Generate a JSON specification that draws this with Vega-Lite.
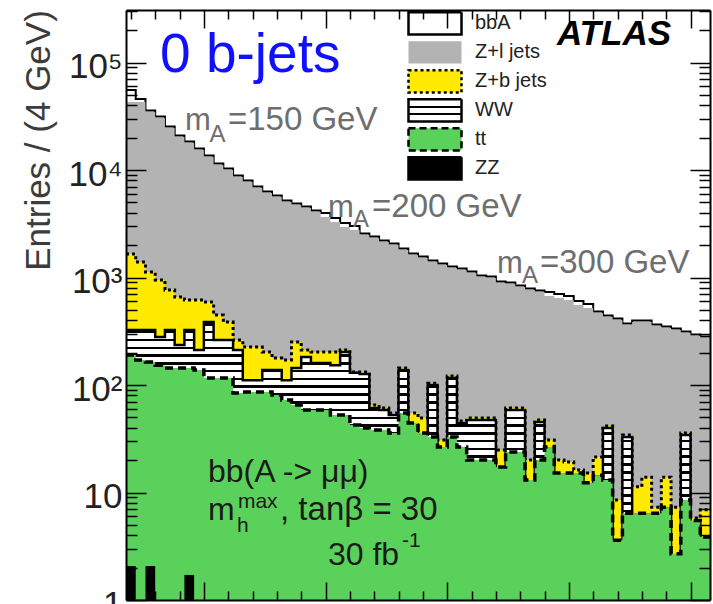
{
  "$schema": "https://vega.github.io/schema/vega-lite/v6.json",
  "width": 584,
  "height": 590,
  "autosize": {"type": "none"},
  "padding": {"left": 126, "top": 10, "right": 3, "bottom": 4},
  "background": "white",
  "config": {"view": {"stroke": null}, "font": "Liberation Sans", "axis": {"grid": false}, "legend": {"symbolFillColor": "#ffffff"}},
  "datasets": {
    "h": [
      {"lo":68,"hi":72,"bbA":55500,"zl":42900,"zb":1654,"ww":325,"tt":190},
      {"lo":72,"hi":76,"bbA":45800,"zl":42900,"zb":1394,"ww":325,"tt":171},
      {"lo":76,"hi":80,"bbA":35800,"zl":34640,"zb":1125,"ww":325,"tt":164},
      {"lo":80,"hi":84,"bbA":31500,"zl":30460,"zb":948,"ww":280,"tt":153},
      {"lo":84,"hi":88,"bbA":25400,"zl":24590,"zb":765,"ww":325,"tt":144},
      {"lo":88,"hi":92,"bbA":20950,"zl":20280,"zb":659,"ww":236,"tt":144},
      {"lo":92,"hi":96,"bbA":18400,"zl":17830,"zb":618,"ww":325,"tt":144},
      {"lo":96,"hi":100,"bbA":15850,"zl":15350,"zb":618,"ww":212,"tt":138},
      {"lo":100,"hi":104,"bbA":13650,"zl":13210,"zb":592,"ww":385,"tt":116},
      {"lo":104,"hi":108,"bbA":11500,"zl":11130,"zb":448,"ww":262,"tt":116},
      {"lo":108,"hi":112,"bbA":10330,"zl":10000,"zb":385,"ww":262,"tt":116},
      {"lo":112,"hi":116,"bbA":8900,"zl":8610,"zb":262,"ww":212,"tt":84.2},
      {"lo":116,"hi":120,"bbA":7990,"zl":7735,"zb":226,"ww":111,"tt":86.1},
      {"lo":120,"hi":124,"bbA":7030,"zl":6803,"zb":226,"ww":111,"tt":86.1},
      {"lo":124,"hi":128,"bbA":6310,"zl":6109,"zb":203,"ww":138,"tt":86.1},
      {"lo":128,"hi":132,"bbA":5790,"zl":5608,"zb":178,"ww":138,"tt":80.7},
      {"lo":132,"hi":136,"bbA":5200,"zl":5039,"zb":171,"ww":111,"tt":72.5},
      {"lo":136,"hi":140,"bbA":4880,"zl":4725,"zb":251,"ww":144,"tt":65.2},
      {"lo":140,"hi":144,"bbA":4580,"zl":4432,"zb":212,"ww":182,"tt":58.5},
      {"lo":144,"hi":148,"bbA":4200,"zl":4068,"zb":203,"ww":160,"tt":58.5},
      {"lo":148,"hi":152,"bbA":3990,"zl":3655,"zb":203,"ww":160,"tt":58.5},
      {"lo":152,"hi":156,"bbA":3580,"zl":3284,"zb":203,"ww":153,"tt":52.6},
      {"lo":156,"hi":160,"bbA":3220,"zl":2950,"zb":212,"ww":203,"tt":52.6},
      {"lo":160,"hi":164,"bbA":3010,"zl":2766,"zb":132,"ww":130,"tt":42.5},
      {"lo":164,"hi":168,"bbA":2570,"zl":2485,"zb":132,"ww":126.6,"tt":39.8},
      {"lo":168,"hi":172,"bbA":2410,"zl":2331,"zb":65.2,"ww":61.1,"tt":38.1},
      {"lo":172,"hi":176,"bbA":2210,"zl":2139,"zb":61.1,"ww":58.5,"tt":38.1},
      {"lo":176,"hi":180,"bbA":2070,"zl":2006,"zb":54.9,"ww":52.6,"tt":35.8},
      {"lo":180,"hi":184,"bbA":1860,"zl":1802,"zb":144,"ww":138,"tt":54.9},
      {"lo":184,"hi":188,"bbA":1670,"zl":1619,"zb":54.9,"ww":43,"tt":44.3},
      {"lo":188,"hi":192,"bbA":1570,"zl":1519,"zb":49.3,"ww":34.7,"tt":35.8},
      {"lo":192,"hi":196,"bbA":1440,"zl":1394,"zb":104,"ww":100,"tt":32.8},
      {"lo":196,"hi":200,"bbA":1350,"zl":1307,"zb":30.8,"ww":25.7,"tt":26.5},
      {"lo":200,"hi":204,"bbA":1265,"zl":1226,"zb":121,"ww":116,"tt":32.8},
      {"lo":204,"hi":208,"bbA":1213,"zl":1174,"zb":46.3,"ww":44.3,"tt":26.5},
      {"lo":208,"hi":212,"bbA":1137,"zl":1101,"zb":49.3,"ww":47.3,"tt":20.1},
      {"lo":212,"hi":216,"bbA":1044,"zl":1011,"zb":49.3,"ww":47.3,"tt":20.1},
      {"lo":216,"hi":220,"bbA":1021,"zl":989,"zb":49.3,"ww":47.3,"tt":20.1},
      {"lo":220,"hi":224,"bbA":918,"zl":889,"zb":24.9,"ww":16.8,"tt":17.3},
      {"lo":224,"hi":228,"bbA":898,"zl":870,"zb":61.1,"ww":58.5,"tt":23.8},
      {"lo":228,"hi":232,"bbA":843,"zl":816,"zb":61.1,"ww":58.5,"tt":23.8},
      {"lo":232,"hi":236,"bbA":790,"zl":765,"zb":20.1,"ww":12.7,"tt":13.1},
      {"lo":236,"hi":240,"bbA":757,"zl":733,"zb":47.3,"ww":45.3,"tt":20.1},
      {"lo":240,"hi":244,"bbA":733,"zl":673,"zb":30.8,"ww":25.7,"tt":26.5},
      {"lo":244,"hi":248,"bbA":703,"zl":645,"zb":20.1,"ww":14.7,"tt":15.2},
      {"lo":248,"hi":252,"bbA":674,"zl":618,"zb":19.2,"ww":14.7,"tt":15.2},
      {"lo":252,"hi":256,"bbA":605,"zl":555,"zb":16.2,"ww":14.7,"tt":15.2},
      {"lo":256,"hi":260,"bbA":567,"zl":520,"zb":15.2,"ww":11.9,"tt":12.3},
      {"lo":260,"hi":264,"bbA":482,"zl":467,"zb":21.4,"ww":14.1,"tt":14.5},
      {"lo":264,"hi":268,"bbA":443,"zl":429,"zb":41.6,"ww":39.8,"tt":13.1},
      {"lo":268,"hi":272,"bbA":415,"zl":402,"zb":8.5,"ww":3.5,"tt":3.6},
      {"lo":272,"hi":276,"bbA":373,"zl":361,"zb":34.3,"ww":32.8,"tt":6.4},
      {"lo":276,"hi":280,"bbA":398,"zl":385,"zb":11.3,"ww":6.2,"tt":6.4},
      {"lo":280,"hi":284,"bbA":398,"zl":385,"zb":13.9,"ww":6.2,"tt":6.4},
      {"lo":284,"hi":288,"bbA":366,"zl":354,"zb":7.3,"ww":6.2,"tt":6.4},
      {"lo":288,"hi":292,"bbA":350,"zl":339,"zb":13.9,"ww":7.1,"tt":7.3},
      {"lo":292,"hi":296,"bbA":336,"zl":325,"zb":7.3,"ww":2.6,"tt":2.7},
      {"lo":296,"hi":300,"bbA":315,"zl":305,"zb":35.8,"ww":34.3,"tt":8.5},
      {"lo":300,"hi":304,"bbA":295,"zl":286,"zb":5.79,"ww":5.3,"tt":5.5},
      {"lo":304,"hi":308,"bbA":283,"zl":274,"zb":6.9,"ww":3.75,"tt":3.86}
    ],
    "zz": [
      {"lo":68,"hi":72,"zz":2.07},
      {"lo":76,"hi":80,"zz":2.07},
      {"lo":92,"hi":96,"zz":1.71}
    ],
    "procs": [
      {"p":"bbA"},{"p":"Z+l jets"},{"p":"Z+b jets"},{"p":"WW"},{"p":"tt"},{"p":"ZZ"}
    ]
  },
  "data": {"name": "h"},
  "transform": [{"fold": ["lo", "hi"], "as": ["edge", "x"]}],
  "resolve": {"axis": {"x": "independent", "y": "independent"}},
  "layer": [
    {
      "mark": {"type": "area", "color": "#ffffff", "interpolate": "linear"},
      "encoding": {
        "x": {"field": "x", "type": "quantitative",
          "scale": {"domain": [68, 308], "nice": false, "zero": false},
          "axis": {"orient": "bottom", "values": [70,80,90,100,110,120,130,140,150,160,170,180,190,200,210,220,230,240,250,260,270,280,290,300],
            "labels": false, "title": null, "domainColor": "#000", "domainWidth": 2, "tickColor": "#000", "tickWidth": 1.5,
            "tickSize": {"condition": {"test": "datum.value % 50 == 0", "value": -18}, "value": -9}, "zindex": 1}},
        "y": {"field": "bbA", "type": "quantitative",
          "scale": {"type": "log", "domain": [1, 308000], "nice": false},
          "axis": {"orient": "left",
            "values": [1,2,3,4,5,6,7,8,9,10,20,30,40,50,60,70,80,90,100,200,300,400,500,600,700,800,900,1000,2000,3000,4000,5000,6000,7000,8000,9000,10000,20000,30000,40000,50000,60000,70000,80000,90000,100000,200000,300000],
            "labelExpr": "datum.value == 1 ? '1' : datum.value == 10 ? '10' : datum.value == 100 ? '10²' : datum.value == 1000 ? '10³' : datum.value == 10000 ? '10⁴' : datum.value == 100000 ? '10⁵' : ''",
            "labelFont": "Liberation Sans", "labelFontSize": 35, "labelColor": "#222", "labelPadding": 24, "labelOffset": 4,
            "labelOverlap": false, "labelBound": false, "labelFlush": false,
            "tickSize": {"condition": {"test": "datum.value == 1 || datum.value == 10 || datum.value == 100 || datum.value == 1000 || datum.value == 10000 || datum.value == 100000", "value": -20}, "value": -11},
            "tickColor": "#000", "tickWidth": 1.5, "domainColor": "#000", "domainWidth": 2,
            "title": "Entries / (4 GeV)", "titleFont": "Liberation Sans", "titleFontSize": 35, "titleFontWeight": "normal", "titleColor": "#3c3c3c",
            "titleAngle": -90, "titleX": -88, "titleY": 130, "titleAlign": "center", "titleBaseline": "middle", "zindex": 1}},
        "y2": {"datum": 1}
      }
    },
    {
      "mark": {"type": "line", "color": "#000", "strokeWidth": 2, "interpolate": "linear"},
      "encoding": {
        "x": {"field": "x", "type": "quantitative", "axis": null},
        "y": {"field": "bbA", "type": "quantitative", "axis": null},
        "order": [{"field": "x"}, {"field": "lo"}]
      }
    },
    {
      "mark": {"type": "area", "color": "#b3b3b3", "interpolate": "linear"},
      "encoding": {
        "x": {"field": "x", "type": "quantitative",
          "axis": {"orient": "top", "values": [70,80,90,100,110,120,130,140,150,160,170,180,190,200,210,220,230,240,250,260,270,280,290,300],
            "labels": false, "title": null, "domainColor": "#000", "domainWidth": 2, "tickColor": "#000", "tickWidth": 1.5,
            "tickSize": {"condition": {"test": "datum.value % 50 == 0", "value": -18}, "value": -9}, "zindex": 1}},
        "y": {"field": "zl", "type": "quantitative",
          "axis": {"orient": "right",
            "values": [1,2,3,4,5,6,7,8,9,10,20,30,40,50,60,70,80,90,100,200,300,400,500,600,700,800,900,1000,2000,3000,4000,5000,6000,7000,8000,9000,10000,20000,30000,40000,50000,60000,70000,80000,90000,100000,200000,300000],
            "labels": false, "title": null,
            "tickSize": {"condition": {"test": "datum.value == 1 || datum.value == 10 || datum.value == 100 || datum.value == 1000 || datum.value == 10000 || datum.value == 100000", "value": -20}, "value": -11},
            "tickColor": "#000", "tickWidth": 1.5, "domainColor": "#000", "domainWidth": 2, "zindex": 1}},
        "y2": {"datum": 1}
      }
    },
    {
      "mark": {"type": "area", "color": "#ffea00", "interpolate": "linear"},
      "encoding": {
        "x": {"field": "x", "type": "quantitative", "axis": null},
        "y": {"field": "zb", "type": "quantitative", "axis": null},
        "y2": {"datum": 1}
      }
    },
    {
      "mark": {"type": "line", "color": "#000", "strokeWidth": 3, "strokeDash": [3, 3], "interpolate": "linear"},
      "encoding": {
        "x": {"field": "x", "type": "quantitative", "axis": null},
        "y": {"field": "zb", "type": "quantitative", "axis": null},
        "order": [{"field": "x"}, {"field": "lo"}]
      }
    },
    {
      "mark": {"type": "area", "interpolate": "linear",
        "color": {"gradient": "linear", "x1": 0, "y1": 0, "x2": 0, "y2": 1, "stops": [
          {"offset":0,"color":"#fff"},
          {"offset":0.004,"color":"#fff"},{"offset":0.004,"color":"#000"},{"offset":0.013,"color":"#000"},{"offset":0.013,"color":"#fff"},
          {"offset":0.032,"color":"#fff"},{"offset":0.032,"color":"#000"},{"offset":0.041,"color":"#000"},{"offset":0.041,"color":"#fff"},
          {"offset":0.060,"color":"#fff"},{"offset":0.060,"color":"#000"},{"offset":0.069,"color":"#000"},{"offset":0.069,"color":"#fff"},
          {"offset":0.088,"color":"#fff"},{"offset":0.088,"color":"#000"},{"offset":0.097,"color":"#000"},{"offset":0.097,"color":"#fff"},
          {"offset":0.116,"color":"#fff"},{"offset":0.116,"color":"#000"},{"offset":0.125,"color":"#000"},{"offset":0.125,"color":"#fff"},
          {"offset":0.144,"color":"#fff"},{"offset":0.144,"color":"#000"},{"offset":0.153,"color":"#000"},{"offset":0.153,"color":"#fff"},
          {"offset":0.172,"color":"#fff"},{"offset":0.172,"color":"#000"},{"offset":0.181,"color":"#000"},{"offset":0.181,"color":"#fff"},
          {"offset":0.200,"color":"#fff"},{"offset":0.200,"color":"#000"},{"offset":0.209,"color":"#000"},{"offset":0.209,"color":"#fff"},
          {"offset":0.228,"color":"#fff"},{"offset":0.228,"color":"#000"},{"offset":0.237,"color":"#000"},{"offset":0.237,"color":"#fff"},
          {"offset":0.256,"color":"#fff"},{"offset":0.256,"color":"#000"},{"offset":0.265,"color":"#000"},{"offset":0.265,"color":"#fff"},
          {"offset":0.284,"color":"#fff"},{"offset":0.284,"color":"#000"},{"offset":0.293,"color":"#000"},{"offset":0.293,"color":"#fff"},
          {"offset":0.312,"color":"#fff"},{"offset":0.312,"color":"#000"},{"offset":0.321,"color":"#000"},{"offset":0.321,"color":"#fff"},
          {"offset":0.340,"color":"#fff"},{"offset":0.340,"color":"#000"},{"offset":0.349,"color":"#000"},{"offset":0.349,"color":"#fff"},
          {"offset":0.368,"color":"#fff"},{"offset":0.368,"color":"#000"},{"offset":0.377,"color":"#000"},{"offset":0.377,"color":"#fff"},
          {"offset":0.396,"color":"#fff"},{"offset":0.396,"color":"#000"},{"offset":0.405,"color":"#000"},{"offset":0.405,"color":"#fff"},
          {"offset":0.424,"color":"#fff"},{"offset":0.424,"color":"#000"},{"offset":0.433,"color":"#000"},{"offset":0.433,"color":"#fff"},
          {"offset":0.452,"color":"#fff"},{"offset":0.452,"color":"#000"},{"offset":0.461,"color":"#000"},{"offset":0.461,"color":"#fff"},
          {"offset":0.480,"color":"#fff"},{"offset":0.480,"color":"#000"},{"offset":0.489,"color":"#000"},{"offset":0.489,"color":"#fff"},
          {"offset":0.508,"color":"#fff"},{"offset":0.508,"color":"#000"},{"offset":0.517,"color":"#000"},{"offset":0.517,"color":"#fff"},
          {"offset":0.536,"color":"#fff"},{"offset":0.536,"color":"#000"},{"offset":0.545,"color":"#000"},{"offset":0.545,"color":"#fff"},
          {"offset":0.564,"color":"#fff"},{"offset":0.564,"color":"#000"},{"offset":0.573,"color":"#000"},{"offset":0.573,"color":"#fff"},
          {"offset":0.592,"color":"#fff"},{"offset":0.592,"color":"#000"},{"offset":0.601,"color":"#000"},{"offset":0.601,"color":"#fff"},
          {"offset":0.620,"color":"#fff"},{"offset":0.620,"color":"#000"},{"offset":0.629,"color":"#000"},{"offset":0.629,"color":"#fff"},
          {"offset":0.648,"color":"#fff"},{"offset":0.648,"color":"#000"},{"offset":0.657,"color":"#000"},{"offset":0.657,"color":"#fff"},
          {"offset":0.676,"color":"#fff"},{"offset":0.676,"color":"#000"},{"offset":0.685,"color":"#000"},{"offset":0.685,"color":"#fff"},
          {"offset":0.704,"color":"#fff"},{"offset":0.704,"color":"#000"},{"offset":0.713,"color":"#000"},{"offset":0.713,"color":"#fff"},
          {"offset":0.732,"color":"#fff"},{"offset":0.732,"color":"#000"},{"offset":0.741,"color":"#000"},{"offset":0.741,"color":"#fff"},
          {"offset":0.760,"color":"#fff"},{"offset":0.760,"color":"#000"},{"offset":0.769,"color":"#000"},{"offset":0.769,"color":"#fff"},
          {"offset":0.788,"color":"#fff"},{"offset":0.788,"color":"#000"},{"offset":0.797,"color":"#000"},{"offset":0.797,"color":"#fff"},
          {"offset":0.816,"color":"#fff"},{"offset":0.816,"color":"#000"},{"offset":0.825,"color":"#000"},{"offset":0.825,"color":"#fff"},
          {"offset":0.844,"color":"#fff"},{"offset":0.844,"color":"#000"},{"offset":0.853,"color":"#000"},{"offset":0.853,"color":"#fff"},
          {"offset":0.872,"color":"#fff"},{"offset":0.872,"color":"#000"},{"offset":0.881,"color":"#000"},{"offset":0.881,"color":"#fff"},
          {"offset":0.900,"color":"#fff"},{"offset":0.900,"color":"#000"},{"offset":0.909,"color":"#000"},{"offset":0.909,"color":"#fff"},
          {"offset":0.928,"color":"#fff"},{"offset":0.928,"color":"#000"},{"offset":0.937,"color":"#000"},{"offset":0.937,"color":"#fff"},
          {"offset":0.956,"color":"#fff"},{"offset":0.956,"color":"#000"},{"offset":0.965,"color":"#000"},{"offset":0.965,"color":"#fff"},
          {"offset":0.984,"color":"#fff"},{"offset":0.984,"color":"#000"},{"offset":0.993,"color":"#000"},{"offset":0.993,"color":"#fff"},
          {"offset":1,"color":"#fff"}
        ]}},
      "encoding": {
        "x": {"field": "x", "type": "quantitative", "axis": null},
        "y": {"field": "ww", "type": "quantitative", "axis": null},
        "y2": {"datum": 1}
      }
    },
    {
      "mark": {"type": "line", "color": "#000", "strokeWidth": 2.5, "interpolate": "linear"},
      "encoding": {
        "x": {"field": "x", "type": "quantitative", "axis": null},
        "y": {"field": "ww", "type": "quantitative", "axis": null},
        "order": [{"field": "x"}, {"field": "lo"}]
      }
    },
    {
      "mark": {"type": "area", "color": "#5ad15a", "interpolate": "linear"},
      "encoding": {
        "x": {"field": "x", "type": "quantitative", "axis": null},
        "y": {"field": "tt", "type": "quantitative", "axis": null},
        "y2": {"datum": 1}
      }
    },
    {
      "mark": {"type": "line", "color": "#000", "strokeWidth": 3.5, "strokeDash": [8, 5], "interpolate": "linear"},
      "encoding": {
        "x": {"field": "x", "type": "quantitative", "axis": null},
        "y": {"field": "tt", "type": "quantitative", "axis": null},
        "order": [{"field": "x"}, {"field": "lo"}]
      }
    },
    {
      "data": {"name": "zz"},
      "mark": {"type": "bar", "color": "#000"},
      "encoding": {
        "x": {"field": "lo", "type": "quantitative", "axis": null},
        "x2": {"field": "hi"},
        "y": {"field": "zz", "type": "quantitative", "axis": null},
        "y2": {"datum": 1}
      }
    },
    {
      "data": {"name": "procs"},
      "mark": {"type": "point", "filled": true, "opacity": 0, "strokeWidth": 2.5},
      "encoding": {
        "fill": {"field": "p", "type": "nominal",
          "scale": {"domain": ["bbA", "Z+l jets", "Z+b jets", "WW", "tt", "ZZ"], "range": ["#ffffff", "#b3b3b3", "#ffea00",
            {"expr": "{gradient: 'linear', x1: 0, y1: 0, x2: 0, y2: 1, stops: [{offset: 0, color: '#fff'}, {offset: 0.3, color: '#fff'}, {offset: 0.3, color: '#000'}, {offset: 0.4, color: '#000'}, {offset: 0.4, color: '#fff'}, {offset: 0.6, color: '#fff'}, {offset: 0.6, color: '#000'}, {offset: 0.7, color: '#000'}, {offset: 0.7, color: '#fff'}, {offset: 1, color: '#fff'}]}"},
            "#5ad15a", "#000000"]},
          "legend": {"title": null, "orient": "none", "direction": "vertical", "legendX": 281, "legendY": 0, "padding": 0,
            "symbolType": "M-1,-0.42H1V0.42H-1Z", "symbolSize": 2809, "symbolStrokeWidth": 2.5, "symbolOpacity": 1,
            "labelFont": "Liberation Sans", "labelFontSize": 20, "labelColor": "#222", "labelOffset": 12,
            "clipHeight": 26.7, "rowPadding": 2}
        },
        "stroke": {"field": "p", "type": "nominal",
          "scale": {"domain": ["bbA", "Z+l jets", "Z+b jets", "WW", "tt", "ZZ"], "range": ["#000000", "transparent", "#000000", "#000000", "#000000", "#000000"]}},
        "strokeDash": {"field": "p", "type": "nominal",
          "scale": {"domain": ["bbA", "Z+l jets", "Z+b jets", "WW", "tt", "ZZ"], "range": [[1, 0], [1, 0], [3, 3], [1, 0], [7, 4], [1, 0]]}}
      }
    },
    {
      "data": {"values": [{}]},
      "mark": {"type": "text", "text": "0 b-jets", "align": "left", "baseline": "alphabetic", "font": "Liberation Sans", "fontSize": 55, "color": "#1010ff"},
      "encoding": {"x": {"datum": 82, "type": "quantitative", "axis": null}, "y": {"datum": 81600, "type": "quantitative", "axis": null}}
    },
    {
      "data": {"values": [{}]},
      "mark": {"type": "text", "text": "ATLAS", "align": "left", "baseline": "alphabetic", "font": "Liberation Sans", "fontSize": 35, "fontWeight": "bold", "fontStyle": "italic", "color": "#000"},
      "encoding": {"x": {"datum": 245.1, "type": "quantitative", "axis": null}, "y": {"datum": 145500, "type": "quantitative", "axis": null}}
    },
    {
      "data": {"values": [{}]},
      "mark": {"type": "text", "text": "m", "align": "left", "baseline": "alphabetic", "font": "Liberation Sans", "fontSize": 31, "color": "#6e6e6e"},
      "encoding": {"x": {"datum": 92.2, "type": "quantitative", "axis": null}, "y": {"datum": 23550, "type": "quantitative", "axis": null}}
    },
    {
      "data": {"values": [{}]},
      "mark": {"type": "text", "text": "A", "align": "left", "baseline": "alphabetic", "font": "Liberation Sans", "fontSize": 24, "color": "#6e6e6e"},
      "encoding": {"x": {"datum": 102.3, "type": "quantitative", "axis": null}, "y": {"datum": 18220, "type": "quantitative", "axis": null}}
    },
    {
      "data": {"values": [{}]},
      "mark": {"type": "text", "text": "=150 GeV", "align": "left", "baseline": "alphabetic", "font": "Liberation Sans", "fontSize": 33, "color": "#6e6e6e"},
      "encoding": {"x": {"datum": 109.9, "type": "quantitative", "axis": null}, "y": {"datum": 23550, "type": "quantitative", "axis": null}}
    },
    {
      "data": {"values": [{}]},
      "mark": {"type": "text", "text": "m", "align": "left", "baseline": "alphabetic", "font": "Liberation Sans", "fontSize": 31, "color": "#6e6e6e"},
      "encoding": {"x": {"datum": 151.0, "type": "quantitative", "axis": null}, "y": {"datum": 3655, "type": "quantitative", "axis": null}}
    },
    {
      "data": {"values": [{}]},
      "mark": {"type": "text", "text": "A", "align": "left", "baseline": "alphabetic", "font": "Liberation Sans", "fontSize": 24, "color": "#6e6e6e"},
      "encoding": {"x": {"datum": 161.3, "type": "quantitative", "axis": null}, "y": {"datum": 2950, "type": "quantitative", "axis": null}}
    },
    {
      "data": {"values": [{}]},
      "mark": {"type": "text", "text": "=200 GeV", "align": "left", "baseline": "alphabetic", "font": "Liberation Sans", "fontSize": 33, "color": "#6e6e6e"},
      "encoding": {"x": {"datum": 169.1, "type": "quantitative", "axis": null}, "y": {"datum": 3655, "type": "quantitative", "axis": null}}
    },
    {
      "data": {"values": [{}]},
      "mark": {"type": "text", "text": "m", "align": "left", "baseline": "alphabetic", "font": "Liberation Sans", "fontSize": 31, "color": "#6e6e6e"},
      "encoding": {"x": {"datum": 220.5, "type": "quantitative", "axis": null}, "y": {"datum": 1101, "type": "quantitative", "axis": null}}
    },
    {
      "data": {"values": [{}]},
      "mark": {"type": "text", "text": "A", "align": "left", "baseline": "alphabetic", "font": "Liberation Sans", "fontSize": 24, "color": "#6e6e6e"},
      "encoding": {"x": {"datum": 230.7, "type": "quantitative", "axis": null}, "y": {"datum": 889, "type": "quantitative", "axis": null}}
    },
    {
      "data": {"values": [{}]},
      "mark": {"type": "text", "text": "=300 GeV", "align": "left", "baseline": "alphabetic", "font": "Liberation Sans", "fontSize": 33, "color": "#6e6e6e"},
      "encoding": {"x": {"datum": 238.1, "type": "quantitative", "axis": null}, "y": {"datum": 1101, "type": "quantitative", "axis": null}}
    },
    {
      "data": {"values": [{}]},
      "mark": {"type": "text", "text": "bb(A -> μμ)", "align": "left", "baseline": "alphabetic", "font": "Liberation Sans", "fontSize": 32, "color": "#1a1a1a"},
      "encoding": {"x": {"datum": 101.7, "type": "quantitative", "axis": null}, "y": {"datum": 12.52, "type": "quantitative", "axis": null}}
    },
    {
      "data": {"values": [{}]},
      "mark": {"type": "text", "text": "m", "align": "left", "baseline": "alphabetic", "font": "Liberation Sans", "fontSize": 32, "color": "#1a1a1a"},
      "encoding": {"x": {"datum": 101.7, "type": "quantitative", "axis": null}, "y": {"datum": 5.55, "type": "quantitative", "axis": null}}
    },
    {
      "data": {"values": [{}]},
      "mark": {"type": "text", "text": "max", "align": "left", "baseline": "alphabetic", "font": "Liberation Sans", "fontSize": 21, "color": "#1a1a1a"},
      "encoding": {"x": {"datum": 114.0, "type": "quantitative", "axis": null}, "y": {"datum": 7.17, "type": "quantitative", "axis": null}}
    },
    {
      "data": {"values": [{}]},
      "mark": {"type": "text", "text": "h", "align": "left", "baseline": "alphabetic", "font": "Liberation Sans", "fontSize": 21, "color": "#1a1a1a"},
      "encoding": {"x": {"datum": 113.6, "type": "quantitative", "axis": null}, "y": {"datum": 4.29, "type": "quantitative", "axis": null}}
    },
    {
      "data": {"values": [{}]},
      "mark": {"type": "text", "text": ", tanβ = 30", "align": "left", "baseline": "alphabetic", "font": "Liberation Sans", "fontSize": 33, "color": "#1a1a1a"},
      "encoding": {"x": {"datum": 131.3, "type": "quantitative", "axis": null}, "y": {"datum": 5.55, "type": "quantitative", "axis": null}}
    },
    {
      "data": {"values": [{}]},
      "mark": {"type": "text", "text": "30 fb", "align": "left", "baseline": "alphabetic", "font": "Liberation Sans", "fontSize": 32, "color": "#1a1a1a"},
      "encoding": {"x": {"datum": 151.0, "type": "quantitative", "axis": null}, "y": {"datum": 2.116, "type": "quantitative", "axis": null}}
    },
    {
      "data": {"values": [{}]},
      "mark": {"type": "text", "text": "-1", "align": "left", "baseline": "alphabetic", "font": "Liberation Sans", "fontSize": 21, "color": "#1a1a1a"},
      "encoding": {"x": {"datum": 181.4, "type": "quantitative", "axis": null}, "y": {"datum": 3.11, "type": "quantitative", "axis": null}}
    }
  ]
}
